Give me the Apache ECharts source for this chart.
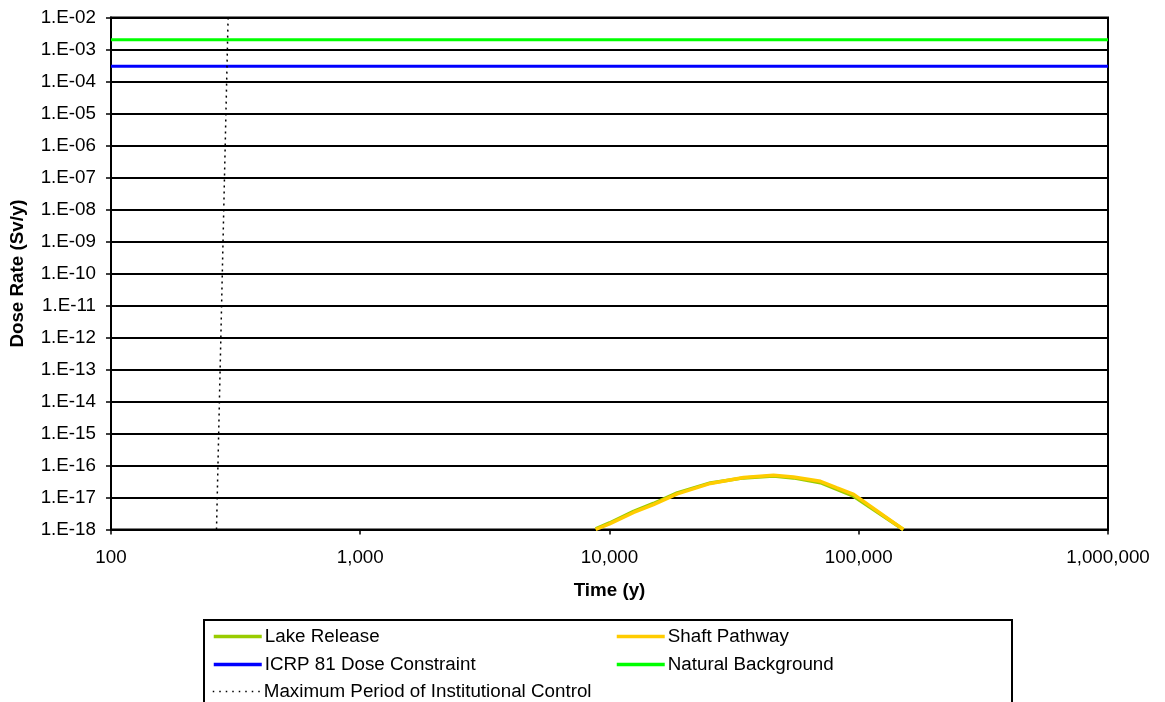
<!DOCTYPE html>
<html>
<head>
<meta charset="utf-8">
<script src="https://cdn.jsdelivr.net/npm/echarts@6/dist/echarts.min.js"></script>
<style>
  html, body { margin: 0; padding: 0; background: #fff; }
  #chart { width: 1165px; height: 702px; }
</style>
</head>
<body>
<div id="chart"></div>
<script>
// Time axis (years) and dose rates (Sv/y)
const timeYears = [8800, 10000, 12500, 15000, 18700, 25400, 34500, 45500, 54700, 70200, 81800, 95400, 151000];
const lakeRelease = [1.05e-18, 1.6e-18, 3.7e-18, 6.5e-18, 1.4e-17, 2.85e-17, 4.1e-17, 4.7e-17, 4.1e-17, 2.9e-17, 1.8e-17, 1.1e-17, 1.0e-18];
const shaftPathway = [1.0e-18, 1.5e-18, 3.4e-18, 6.0e-18, 1.3e-17, 2.75e-17, 4.2e-17, 5.0e-17, 4.4e-17, 3.2e-17, 2.0e-17, 1.25e-17, 1.0e-18];

// Reference levels
const icrpTimes = [100, 1000000];
const icrpDose = [3e-4, 3e-4];
const backgroundTimes = [100, 1000000];
const backgroundDose = [2e-3, 2e-3];
const controlTimes = [265, 295];
const controlDose = [1e-18, 1e-2];

const seriesNames = ['Lake Release', 'Shaft Pathway', 'ICRP 81 Dose Constraint', 'Natural Background', 'Maximum Period of Institutional Control'];

function pairs(xs, ys) { return xs.map((x, i) => [x, ys[i]]); }

const FONT = 'Liberation Sans, Arial, sans-serif';
const FS = 18.8;

const chart = echarts.init(document.getElementById('chart'), null, { renderer: 'canvas' });

const legendPos = [
  { name: seriesNames[0], left: 212, top: 627, line: { width: 3.5 } },
  { name: seriesNames[1], left: 615, top: 627, line: { width: 3.5 } },
  { name: seriesNames[2], left: 212, top: 655, line: { width: 3.5 } },
  { name: seriesNames[3], left: 615, top: 655, line: { width: 3.5 } },
  { name: seriesNames[4], left: 212, top: 682, line: { width: 1.5, type: [1.5, 5] } }
];

chart.setOption({
  animation: false,
  backgroundColor: '#ffffff',
  grid: { left: 110, right: 57, top: 17.5, bottom: 172.5, show: true, borderColor: '#000', borderWidth: 2, backgroundColor: 'transparent' },
  xAxis: {
    type: 'log', logBase: 10, min: 100, max: 1000000, interval: 1,
    name: 'Time (y)', nameLocation: 'middle', nameGap: 52,
    nameTextStyle: { fontFamily: FONT, fontSize: FS, fontWeight: 'bold', color: '#000' },
    axisLine: { show: true, lineStyle: { color: '#000', width: 2 } },
    axisTick: { show: true, length: 5, lineStyle: { color: '#000', width: 1.5 } },
    minorTick: { show: false },
    splitLine: { show: false },
    axisLabel: {
      fontFamily: FONT, fontSize: FS, color: '#000', margin: 19,
      formatter: v => Math.round(v).toLocaleString('en-US')
    }
  },
  yAxis: {
    type: 'log', logBase: 10, min: 1e-18, max: 1e-2, interval: 1,
    name: 'Dose Rate (Sv/y)', nameLocation: 'middle', nameGap: 84, nameRotate: 90,
    nameTextStyle: { fontFamily: FONT, fontSize: FS, fontWeight: 'bold', color: '#000' },
    axisLine: { show: true, lineStyle: { color: '#000', width: 2 } },
    axisTick: { show: true, length: 5, lineStyle: { color: '#000', width: 1.5 } },
    splitLine: { show: true, lineStyle: { color: '#000', width: 2 } },
    axisLabel: {
      fontFamily: FONT, fontSize: FS, color: '#000', margin: 15,
      formatter: v => {
        const e = Math.round(Math.log10(v));
        const a = Math.abs(e);
        return '1.E' + (e < 0 ? '-' : '+') + (a < 10 ? '0' + a : a);
      }
    }
  },
  legend: legendPos.map(p => ({
    data: [p.name], left: p.left, top: p.top, padding: 0,
    itemWidth: 48, itemHeight: 4, itemGap: 0,
    itemStyle: { opacity: 0 },
    lineStyle: p.line,
    textStyle: { fontFamily: FONT, fontSize: FS, color: '#000', padding: [0, 0, 0, -2] },
    selectedMode: false
  })),
  graphic: [{
    type: 'rect', left: 203, top: 619, z: -1,
    shape: { width: 808, height: 100 },
    style: { fill: '#fff', stroke: '#000', lineWidth: 2 }
  }],
  series: [
    {
      name: seriesNames[0], type: 'line', data: pairs(timeYears, lakeRelease),
      showSymbol: false, symbol: 'none', smooth: false,
      lineStyle: { color: '#99cc00', width: 3.5 }, itemStyle: { color: '#99cc00' }, z: 3
    },
    {
      name: seriesNames[1], type: 'line', data: pairs(timeYears, shaftPathway),
      showSymbol: false, symbol: 'none',
      lineStyle: { color: '#ffcc00', width: 3.5 }, itemStyle: { color: '#ffcc00' }, z: 4
    },
    {
      name: seriesNames[2], type: 'line', data: pairs(icrpTimes, icrpDose),
      showSymbol: false, symbol: 'none',
      lineStyle: { color: '#0000ff', width: 3 }, itemStyle: { color: '#0000ff' }, z: 3
    },
    {
      name: seriesNames[3], type: 'line', data: pairs(backgroundTimes, backgroundDose),
      showSymbol: false, symbol: 'none',
      lineStyle: { color: '#00ff00', width: 3 }, itemStyle: { color: '#00ff00' }, z: 3
    },
    {
      name: seriesNames[4], type: 'line', data: pairs(controlTimes, controlDose),
      showSymbol: false, symbol: 'none',
      lineStyle: { color: '#000', width: 1.5, type: [2, 4] }, itemStyle: { color: '#000' }, z: 5
    }
  ]
});
</script>
</body>
</html>
